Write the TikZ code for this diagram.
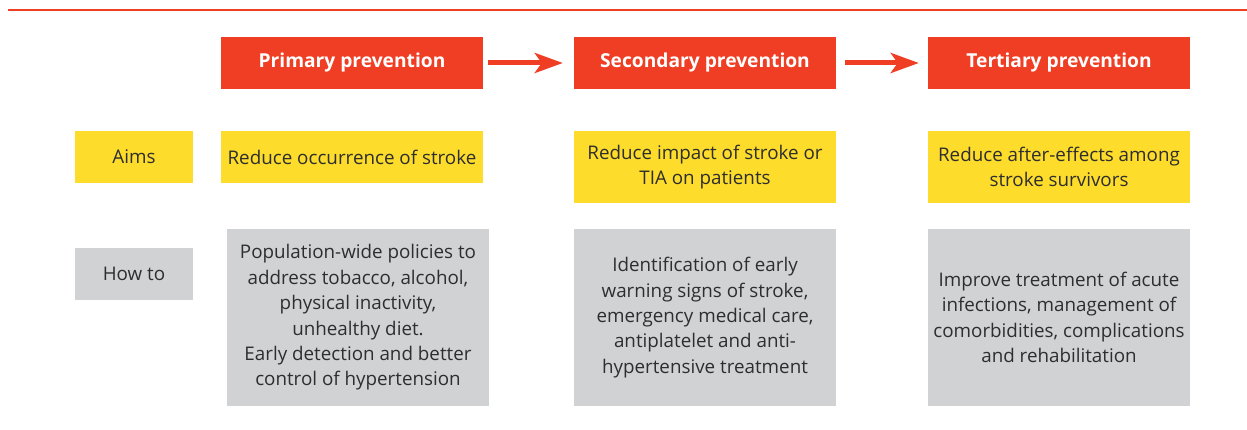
\documentclass[tikz,border=0pt]{standalone}
\usepackage{fontspec}
\setmainfont{Open Sans}
\usetikzlibrary{arrows.meta}
\definecolor{stagered}{HTML}{EF3E24}
\definecolor{aimyellow}{HTML}{FDDC2B}
\definecolor{howgray}{HTML}{D1D2D4}
\definecolor{bodytext}{HTML}{2E2E2E}
\begin{document}
\begin{tikzpicture}[x=1pt,y=-1pt,
  stagebox/.style={fill=stagered, text=white, inner sep=0pt, minimum width=262pt, minimum height=52pt,
    font=\fontsize{19.2}{24}\selectfont\bfseries},
  cellbox/.style={inner sep=0pt, text=bodytext, align=center,
    font=\fontsize{18.8}{25.4}\selectfont},
  aimbox/.style={cellbox, fill=aimyellow},
  howbox/.style={cellbox, fill=howgray},
  flowarrow/.style={draw=stagered, line width=5pt,
    -{Stealth[length=28pt, width=20pt, inset=7pt]}}]
\useasboundingbox (0,0) rectangle (1247,430);
% rule across the top
\coordinate (ruleL) at (8,10);
\coordinate (ruleR) at (1247,10);
\draw[stagered, line width=2.2pt] (ruleL) -- (ruleR);
% stage headers
\node[stagebox] (prim) at (352,63) {Primary prevention};
\node[stagebox] (sec)  at (705,63) {Secondary prevention};
\node[stagebox] (tert) at (1059,63) {Tertiary prevention};
\draw[flowarrow] ([xshift=5pt]prim.east) -- ([xshift=-11pt]sec.west);
\draw[flowarrow] ([xshift=9pt]sec.east) -- ([xshift=-9pt]tert.west);
% row labels
\node[aimbox, minimum width=118pt, minimum height=52pt] (aims) at (134,157) {Aims};
\node[howbox, minimum width=118pt, minimum height=52pt] (how) at (134,274) {How to};
% aims
\node[aimbox, minimum width=262pt, minimum height=52pt] (aimP) at (352,157) {Reduce occurrence of stroke};
\node[aimbox, minimum width=262pt, minimum height=72pt] (aimS) at (705,167) {Reduce impact of stroke or\\TIA on patients};
\node[aimbox, minimum width=262pt, minimum height=72pt] (aimT) at (1059,167) {Reduce after-effects among\\stroke survivors};
% means
\node[howbox, minimum width=262pt, minimum height=177pt] (howP) at (358,317.5)
  {Population-wide policies to\\address tobacco, alcohol,\\physical inactivity,\\unhealthy diet.\\Early detection and better\\control of hypertension};
\node[howbox, minimum width=262pt, minimum height=177pt] (howS) at (705,317.5)
  {Identification of early\\warning signs of stroke,\\emergency medical care,\\antiplatelet and anti-\\hypertensive treatment};
\node[howbox, minimum width=262pt, minimum height=177pt] (howT) at (1059,317.5)
  {Improve treatment of acute\\infections, management of\\comorbidities, complications\\and rehabilitation};
\end{tikzpicture}
\end{document}
